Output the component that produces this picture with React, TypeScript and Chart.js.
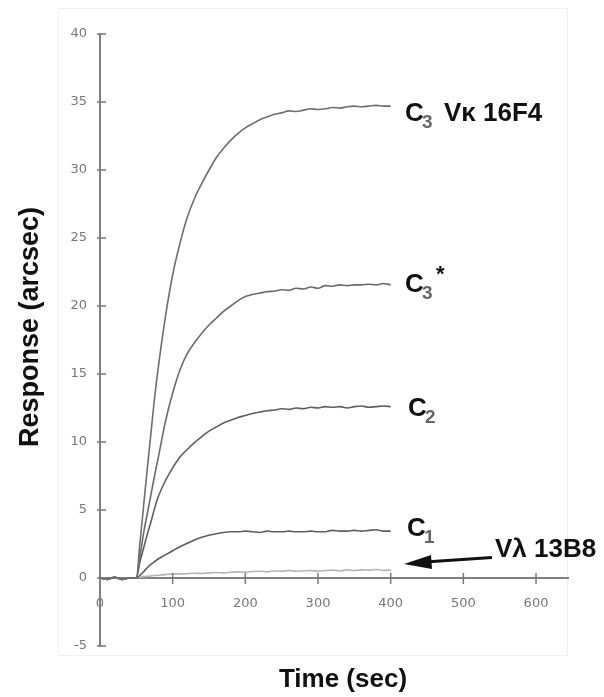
import React, { useEffect, useRef } from "react";
import { Chart, registerables } from "chart.js";
Chart.register(...registerables);

// Time points (sec)
const times = [0, 10, 20, 30, 40, 50, 55, 60, 65, 70, 75, 80, 90, 100, 110, 120, 130, 140, 150, 160, 170, 180, 190, 200, 210, 220, 230, 240, 250, 260, 270, 280, 290, 300, 310, 320, 330, 340, 350, 360, 370, 380, 390, 400];

// Responses (arcsec)
const c3Vk = [0, -0.1, 0.05, -0.1, 0, 0, 2.6, 5.3, 8.0, 10.6, 13.2, 15.4, 19.2, 22.3, 24.6, 26.5, 27.9, 29.0, 30.0, 30.9, 31.6, 32.2, 32.7, 33.1, 33.4, 33.7, 33.9, 34.1, 34.2, 34.35, 34.3, 34.4, 34.5, 34.45, 34.5, 34.6, 34.55, 34.65, 34.7, 34.65, 34.7, 34.75, 34.7, 34.7];
const c3Star = [0, -0.1, 0.05, -0.1, 0, 0, 1.6, 3.3, 4.7, 6.1, 7.5, 8.8, 11.5, 13.6, 15.3, 16.5, 17.3, 18.0, 18.6, 19.1, 19.6, 20.0, 20.4, 20.7, 20.85, 20.95, 21.05, 21.1, 21.2, 21.15, 21.3, 21.25, 21.4, 21.3, 21.5, 21.45, 21.55, 21.5, 21.55, 21.55, 21.6, 21.55, 21.65, 21.55];
const c2 = [0, -0.1, 0.05, -0.1, 0, 0, 1.2, 2.2, 3.2, 4.1, 5.1, 5.95, 7.15, 8.1, 8.9, 9.45, 9.95, 10.4, 10.8, 11.1, 11.4, 11.6, 11.8, 11.95, 12.1, 12.2, 12.3, 12.35, 12.45, 12.4, 12.5, 12.45, 12.55, 12.5, 12.6, 12.55, 12.6, 12.5, 12.6, 12.65, 12.55, 12.6, 12.65, 12.6];
const c1 = [0, -0.1, 0.05, -0.1, 0, 0, 0.2, 0.46, 0.75, 1.0, 1.2, 1.4, 1.7, 2.0, 2.3, 2.55, 2.8, 3.0, 3.15, 3.25, 3.35, 3.4, 3.4, 3.45, 3.4, 3.35, 3.45, 3.4, 3.4, 3.45, 3.4, 3.4, 3.45, 3.4, 3.4, 3.5, 3.45, 3.45, 3.5, 3.45, 3.5, 3.55, 3.45, 3.45];
const vL13B8 = [0, -0.1, 0.05, -0.1, 0, 0, 0.05, 0.1, 0.12, 0.15, 0.18, 0.2, 0.25, 0.3, 0.3, 0.32, 0.35, 0.33, 0.38, 0.4, 0.38, 0.42, 0.45, 0.43, 0.48, 0.5, 0.45, 0.52, 0.5, 0.55, 0.5, 0.52, 0.55, 0.5, 0.55, 0.58, 0.52, 0.6, 0.55, 0.6, 0.58, 0.62, 0.55, 0.6];

const xTicks = [0, 100, 200, 300, 400, 500, 600];
const yTicks = [-5, 0, 5, 10, 15, 20, 25, 30, 35, 40];
const xMax = 644;

const seriesNames = ["C3 Vκ 16F4", "C3*", "C2", "C1", "Vλ 13B8"];
const seriesValues = [c3Vk, c3Star, c2, c1, vL13B8];
const seriesColors = ["#6e6e6e", "#6a6a6a", "#5e5e5e", "#5e5e5e", "#b4b4b4"];

const BOLD = '"Liberation Sans", Arial, sans-serif';

const annotPlugin = {
  id: "annot",
  beforeDraw(chart: any) {
    const ctx = chart.ctx;
    ctx.save();
    ctx.strokeStyle = "#f0f0f0";
    ctx.lineWidth = 1;
    ctx.strokeRect(58.5, 8.5, 509, 647);
    ctx.restore();
  },
  afterDraw(chart: any) {
    const ctx = chart.ctx;
    const xs = chart.scales.x;
    const ys = chart.scales.y;
    const x0 = xs.getPixelForValue(0);
    const y0 = ys.getPixelForValue(0);
    ctx.save();
    ctx.strokeStyle = "#7a7a7a";
    ctx.lineWidth = 1.5;
    ctx.beginPath();
    yTicks.forEach((v) => {
      const py = ys.getPixelForValue(v);
      ctx.moveTo(x0 - 3, py);
      ctx.lineTo(x0 + 6, py);
    });
    xTicks.forEach((v) => {
      if (v === 0) return;
      const px = xs.getPixelForValue(v);
      ctx.moveTo(px, y0 - 5);
      ctx.lineTo(px, y0 + 6);
    });
    ctx.stroke();

    // axis titles
    ctx.fillStyle = "#111";
    ctx.textAlign = "center";
    ctx.textBaseline = "alphabetic";
    ctx.font = `bold 26px ${BOLD}`;
    ctx.fillText("Time (sec)", 343, 687);
    ctx.save();
    ctx.translate(31, 327);
    ctx.rotate(-Math.PI / 2);
    ctx.textBaseline = "middle";
    ctx.font = `bold 27px ${BOLD}`;
    ctx.fillText("Response (arcsec)", 0, 0);
    ctx.restore();

    // curve labels
    ctx.textAlign = "left";
    ctx.textBaseline = "alphabetic";
    const big = `bold 26px ${BOLD}`;
    const sub = `bold 19px ${BOLD}`;
    const label = (x: number, yb: number, subTxt: string, rest?: string, star?: boolean) => {
      ctx.font = big;
      ctx.fillStyle = "#111";
      ctx.fillText("C", x, yb);
      ctx.font = sub;
      ctx.fillStyle = "#666";
      ctx.fillText(subTxt, x + 17, yb + 7);
      if (star) {
        ctx.font = `bold 22px ${BOLD}`;
        ctx.fillStyle = "#111";
        ctx.fillText("*", x + 31, yb - 11);
      }
      if (rest) {
        ctx.font = big;
        ctx.fillStyle = "#111";
        ctx.fillText(rest, x + 39, yb);
      }
    };
    label(405, 121, "3", "Vκ 16F4");
    label(405, 292, "3", undefined, true);
    label(408, 416, "2");
    label(407, 536, "1");

    ctx.font = big;
    ctx.fillStyle = "#111";
    ctx.fillText("Vλ 13B8", 495, 557);

    // arrow
    ctx.strokeStyle = "#111";
    ctx.lineWidth = 3;
    ctx.beginPath();
    ctx.moveTo(492, 557.5);
    ctx.lineTo(425, 562);
    ctx.stroke();
    ctx.fillStyle = "#111";
    ctx.beginPath();
    ctx.moveTo(404, 564);
    ctx.lineTo(431, 555);
    ctx.lineTo(432, 569);
    ctx.closePath();
    ctx.fill();
    ctx.restore();
  },
};

export default function App() {
  const ref = useRef<HTMLCanvasElement>(null);
  useEffect(() => {
    if (!ref.current) return;
    const chart = new Chart(ref.current, {
      type: "line",
      data: {
        datasets: seriesValues.map((vals, i) => ({
          label: seriesNames[i],
          data: times.map((t, j) => ({ x: t, y: vals[j] })),
          borderColor: seriesColors[i],
          borderWidth: 1.6,
          pointRadius: 0,
          cubicInterpolationMode: "monotone" as const,
          fill: false,
        })),
      },
      options: {
        animation: false,
        responsive: false,
        plugins: { legend: { display: false }, tooltip: { enabled: false } },
        layout: { padding: { left: 0, top: 34, right: 36, bottom: 51 } },
        scales: {
          x: {
            type: "linear",
            min: 0,
            max: xMax,
            position: { y: 0 } as any,
            afterBuildTicks: (s: any) => {
              s.ticks = xTicks.map((v) => ({ value: v }));
            },
            grid: { display: false, drawTicks: false },
            border: { display: true, color: "#808080", width: 2 },
            ticks: {
              padding: 18,
              color: "#777",
              font: { family: '"DejaVu Sans", Verdana, sans-serif', size: 13 },
              maxRotation: 0,
              autoSkip: false,
            },
          },
          y: {
            type: "linear",
            position: "left",
            min: -5,
            max: 40,
            afterBuildTicks: (s: any) => {
              s.ticks = yTicks.map((v) => ({ value: v }));
            },
            afterFit: (s: any) => {
              s.width = 100;
            },
            grid: { display: false, drawTicks: false },
            border: { display: true, color: "#808080", width: 2 },
            ticks: {
              padding: 13,
              color: "#777",
              font: { family: '"DejaVu Sans", Verdana, sans-serif', size: 13 },
              autoSkip: false,
            },
          },
        },
      },
      plugins: [annotPlugin],
    });
    return () => chart.destroy();
  }, []);
  return (
    <div style={{ position: "fixed", left: 0, top: 0, width: 604, height: 697, background: "#fff" }}>
      <canvas ref={ref} width={604} height={697} style={{ display: "block" }} />
    </div>
  );
}
